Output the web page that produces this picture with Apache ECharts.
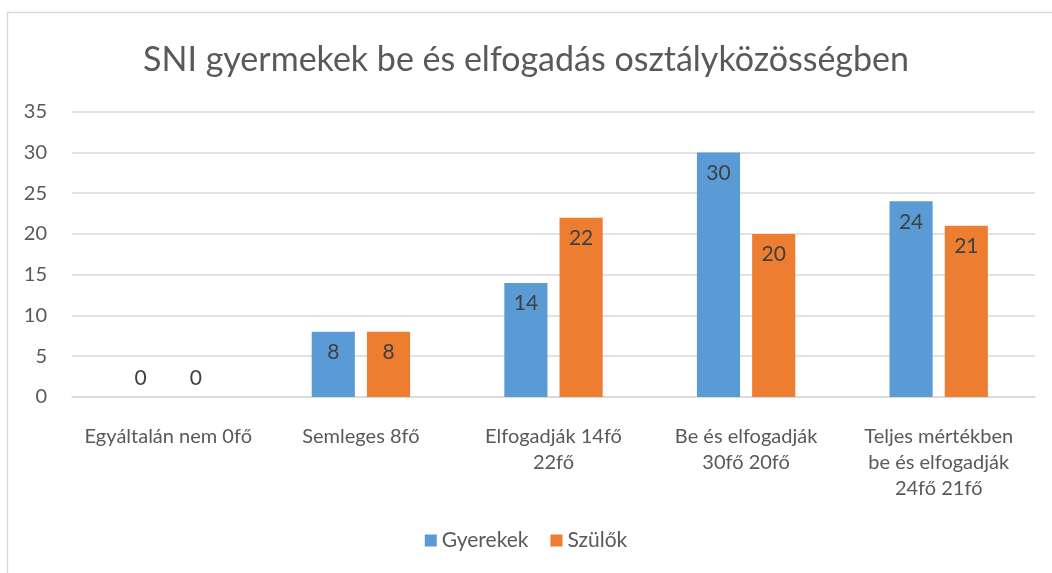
<!DOCTYPE html>
<html><head><meta charset="utf-8">
<script src="https://cdn.jsdelivr.net/npm/echarts@6/dist/echarts.min.js"></script>
<style>html,body{margin:0;padding:0;background:#fff}#c{width:1052px;height:573px}</style>
</head><body><div id="c"></div>
<script>
const categories = ['Egyáltalán nem 0fő', 'Semleges 8fő', 'Elfogadják 14fő\n22fő', 'Be és elfogadják\n30fő 20fő', 'Teljes mértékben\nbe és elfogadják\n24fő 21fő'];
const gyerekek = [0, 8, 14, 30, 24];
const szulok = [0, 8, 22, 20, 21];
const yTicks = [0, 5, 10, 15, 20, 25, 30, 35];

const FONT = 'Lato';
function mk(arr) {
  return arr.map(v => v === 0 ? {value: v, label: {position: 'top', distance: 8}} : v);
}
const chart = echarts.init(document.getElementById('c'));
chart.setOption({
  animation: false,
  textStyle: {fontFamily: FONT},
  title: {text: 'SNI gyermekek be és elfogadás osztályközösségben', left: 'center', top: 38,
    textStyle: {fontFamily: FONT, fontSize: 34, fontWeight: 'normal', color: '#595959'}},
  graphic: [{type: 'rect', shape: {x: 7.5, y: 12.5, width: 1100, height: 700},
    style: {fill: 'none', stroke: '#d9d9d9', lineWidth: 1.5}, silent: true}],
  legend: {bottom: 17, left: 'center', itemWidth: 12, itemHeight: 12, itemGap: 22, icon: 'rect',
    textStyle: {fontFamily: FONT, fontSize: 21, color: '#595959', padding: [0, 0, 0, 0]}},
  grid: {left: 72, right: 17, top: 111.7, bottom: 176},
  xAxis: {type: 'category', data: categories,
    axisLine: {lineStyle: {color: '#d9d9d9', width: 1.5}}, axisTick: {show: false},
    axisLabel: {fontFamily: FONT, fontSize: 20, color: '#595959', lineHeight: 26, margin: 27, interval: 0}},
  yAxis: {type: 'value', min: yTicks[0], max: yTicks[yTicks.length - 1], interval: 5,
    axisLine: {show: false}, axisTick: {show: false},
    splitLine: {lineStyle: {color: '#d9d9d9', width: 1.5}},
    axisLabel: {fontFamily: FONT, fontSize: 20, color: '#595959', margin: 25}},
  series: [
    {name: 'Gyerekek', type: 'bar', data: mk(gyerekek), barWidth: '22.4%', barGap: '28%',
      itemStyle: {color: '#5b9bd5'},
      label: {show: true, position: 'insideTop', distance: 10, fontFamily: FONT, fontSize: 21, color: '#404040'}},
    {name: 'Szülők', type: 'bar', data: mk(szulok), barWidth: '22.4%', barGap: '28%',
      itemStyle: {color: '#ed7d31'},
      label: {show: true, position: 'insideTop', distance: 10, fontFamily: FONT, fontSize: 21, color: '#404040'}}
  ]
});
</script></body></html>
